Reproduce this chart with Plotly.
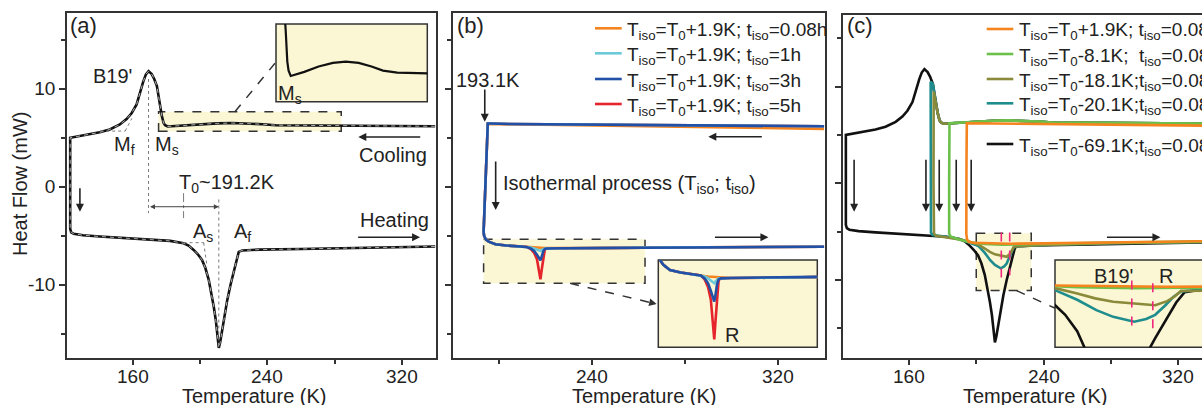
import plotly.graph_objects as go

W, H = 1202, 405
def px(x): return x / W
def py(y): return 1 - y / H

FONT = "Liberation Sans, Arial, sans-serif"
INK = "#222222"
AX = "#333333"
YEL = "#FBF6D3"
PINK = "#F0287C"

# ---------------- axis ticks ----------------
x_tick_vals = [160, 240, 320]
x_tick_text = ["160", "240", "320"]
x_minor_vals = [120, 200, 280]
y_tick_vals = [-10, 0, 10]
y_tick_text = ["-10", "0", "10"]
y_minor_vals = [-15, -5, 5, 15]

# ---------------- data: panel (a) and black curve of (c) ----------------
a_cool_T = [340, 320, 300, 280, 265, 255, 245, 237, 228, 219, 210, 200, 190, 183, 180.5, 179, 178.1, 177,
            176.1, 175, 174.1, 172.5, 171, 169.1, 167.5, 166, 164, 162, 159, 156, 152, 146, 140, 134, 128, 124, 122.4]
a_cool_HF = [6.17, 6.18, 6.19, 6.2, 6.21, 6.23, 6.28, 6.38, 6.47, 6.5, 6.47, 6.38, 6.25, 6.17, 6.15, 6.28, 6.5, 7.25,
             8.2, 9.3, 10.27, 11.0, 11.5, 11.8, 11.45, 10.75, 9.5, 8.4, 7.5, 6.9, 6.35, 5.85, 5.55, 5.35, 5.2, 5.08, 5.0]
a_heat_T = [122.4, 123, 124.5, 130, 140, 150, 160, 170, 182, 190, 193, 196, 198.5, 201, 203, 205, 206.5, 208, 209.2,
            210.2, 211, 211.8, 213, 214.5, 216, 218, 220, 221.5, 222.9, 225, 235, 260, 300, 340]
a_heat_HF = [-4.3, -4.65, -4.8, -4.95, -5.08, -5.17, -5.27, -5.42, -5.53, -5.77, -6.0, -6.45, -6.9, -7.47, -8.3, -9.5,
             -10.8, -12.25, -13.6, -15.0, -16.45, -15.9, -14.6, -13.1, -11.6, -10.0, -8.5, -7.4, -6.65, -6.5, -6.42,
             -6.35, -6.22, -6.1]

# ---------------- data: panel (b) ----------------
b_labels = ["T<sub>iso</sub>=T<sub>0</sub>+1.9K; t<sub>iso</sub>=0.08h",
            "T<sub>iso</sub>=T<sub>0</sub>+1.9K; t<sub>iso</sub>=1h",
            "T<sub>iso</sub>=T<sub>0</sub>+1.9K; t<sub>iso</sub>=3h",
            "T<sub>iso</sub>=T<sub>0</sub>+1.9K; t<sub>iso</sub>=5h"]
b_colors = ["#F5841F", "#6CCAD8", "#2150A6", "#E5242B"]
b_cool_T = [340, 300, 260, 230, 205, 196, 195.0]
b_cool_HF_orange = [5.9, 6.05, 6.2, 6.3, 6.38, 6.4, 6.4]
b_cool_HF = [6.17, 6.22, 6.3, 6.35, 6.4, 6.45, 6.45]
b_drop_T = [194.6, 193.8, 193.3, 193.2, 193.4, 194.2, 195.4]
b_drop_HF = [4.0, 0.0, -3.0, -4.6, -5.0, -5.4, -5.6]
b_heat_T = [198.3, 203, 208, 211.8, 213.5, 215, 216.2, 217, 217.7, 218.3, 218.9, 219.6, 220.5, 225, 240, 262, 300, 340]
b_heat_HF_orange = [-5.87, -6.0, -6.1, -6.16, -6.18, -6.2, -6.21, -6.22, -6.22, -6.23, -6.25, -6.26, -6.27, -6.28,
                    -6.27, -6.22, -6.17, -6.12]
b_heat_HF_cyan = [-5.87, -6.0, -6.1, -6.15, -6.2, -6.3, -6.4, -6.5, -6.55, -6.45, -6.35, -6.3, -6.3, -6.28, -6.27,
                  -6.22, -6.17, -6.12]
b_heat_HF_blue = [-5.87, -6.0, -6.1, -6.15, -6.3, -6.55, -6.95, -7.3, -7.5, -7.1, -6.6, -6.35, -6.3, -6.28, -6.27,
                  -6.22, -6.17, -6.12]
b_heat_HF_red = [-5.87, -6.0, -6.1, -6.15, -6.35, -6.75, -7.4, -8.3, -9.45, -8.4, -7.2, -6.4, -6.3, -6.28, -6.27,
                 -6.22, -6.17, -6.12]

# ---------------- data: panel (c) ----------------
c_labels = ["T<sub>iso</sub>=T<sub>0</sub>+1.9K; t<sub>iso</sub>=0.08h",
            "T<sub>iso</sub>=T<sub>0</sub>-8.1K;  t<sub>iso</sub>=0.08h",
            "T<sub>iso</sub>=T<sub>0</sub>-18.1K;t<sub>iso</sub>=0.08h",
            "T<sub>iso</sub>=T<sub>0</sub>-20.1K;t<sub>iso</sub>=0.08h",
            "T<sub>iso</sub>=T<sub>0</sub>-69.1K;t<sub>iso</sub>=0.08h"]
c_colors = ["#F5841F", "#6CC04A", "#8A8A3A", "#1F8C8E", "#111111"]
c_orange_T = [340, 300, 260, 230, 205, 196, 194.3, 194.1, 194.0, 194.0, 194.4, 195.5, 198, 210, 220, 240, 280, 340]
c_orange_HF = [5.95, 6.02, 6.1, 6.15, 6.2, 6.2, 6.2, 2.0, -2.0, -5.2, -5.8, -6.05, -6.15, -6.2, -6.25, -6.22,
               -6.1, -5.98]
c_green_cut = 184.0
c_green_drop_T = [184.0, 183.8, 183.7, 183.8, 184.6, 186.5, 190, 196, 205, 215, 222, 240, 280, 340]
c_green_drop_HF = [6.2, 0.0, -4.0, -5.2, -5.5, -5.65, -5.85, -6.1, -6.28, -6.36, -6.33, -6.26, -6.14, -6.02]
c_olive_cut = 175.0
c_olive_drop_T = [174.6, 174.5, 174.5, 174.8, 176, 182, 190, 196, 201.3, 205, 208, 211, 214.5, 218, 220, 221.3,
                  222.3, 225, 240, 280, 340]
c_olive_drop_HF = [9.5, 0.0, -4.5, -5.2, -5.42, -5.55, -5.8, -6.05, -6.35, -6.75, -7.1, -7.35, -7.5, -7.6, -7.3,
                   -6.95, -6.55, -6.5, -6.38, -6.2, -6.05]
c_teal_cut = 173.0
c_teal_drop_T = [172.8, 172.7, 172.7, 173.0, 174, 180, 186, 192, 196, 201.3, 205, 208.2, 211, 214.5, 216.5, 218,
                 219.7, 221, 222.3, 225, 240, 280, 340]
c_teal_drop_HF = [10.5, 0.0, -4.5, -5.1, -5.35, -5.5, -5.62, -5.9, -6.15, -6.5, -7.2, -7.96, -8.45, -8.8, -8.6,
                  -8.3, -7.6, -7.0, -6.6, -6.5, -6.38, -6.2, -6.05]

fig = go.Figure()

def line(x, y, color, width, xa="x", ya="y", dash="solid"):
    fig.add_trace(go.Scatter(x=x, y=y, mode="lines", xaxis=xa, yaxis=ya, showlegend=False, hoverinfo="skip",
                             line=dict(color=color, width=width, dash=dash)))

# ---- panel a
a_T = a_cool_T + a_heat_T
a_HF = a_cool_HF + a_heat_HF
line(a_T, a_HF, "#111111", 2.6)
line(a_T, a_HF, "#c4c4c4", 0.9, dash="4px,4px")
# inset a
line(a_cool_T, a_cool_HF, "#111111", 2.2, "x4", "y4")

# ---- panel b
b_heat = [b_heat_HF_orange, b_heat_HF_cyan, b_heat_HF_blue, b_heat_HF_red]
order = [0, 3, 1, 2]
for i in order:
    ch = b_cool_HF_orange if i == 0 else b_cool_HF
    xs = b_cool_T + b_drop_T + b_heat_T
    ys = ch + b_drop_HF + b_heat[i]
    line(xs, ys, b_colors[i], 2.6, "x2", "y2")
for i in order:
    line(b_drop_T + b_heat_T, b_drop_HF + b_heat[i], b_colors[i], 2.6, "x5", "y5")

# ---- panel c
def cool_until(cut):
    xs = [t for t in a_cool_T if t >= cut]
    ys = [h for t, h in zip(a_cool_T, a_cool_HF) if t >= cut]
    return xs, ys

c_series = []
c_series.append((a_T, a_HF, c_colors[4]))
for cut, dx, dy, col in [(c_teal_cut, c_teal_drop_T, c_teal_drop_HF, c_colors[3]),
                         (c_olive_cut, c_olive_drop_T, c_olive_drop_HF, c_colors[2]),
                         (c_green_cut, c_green_drop_T, c_green_drop_HF, c_colors[1])]:
    cx, cy = cool_until(cut)
    c_series.append((cx + dx, cy + dy, col))
c_series.append((c_orange_T, c_orange_HF, c_colors[0]))
for xs, ys, col in c_series:
    line(xs, ys, col, 2.6, "x3", "y3")
for xs, ys, col in c_series:
    line(xs, ys, col, 2.6, "x6", "y6")

# ---------------- axes ----------------
tickfont = dict(size=19, family=FONT, color=INK)
def xax(domain, rng, anchor):
    return dict(domain=domain, range=rng, anchor=anchor, showline=True, linecolor=AX, linewidth=1.6, mirror=True,
                ticks="outside", ticklen=5, tickwidth=1.5, tickcolor=AX, tickmode="array", tickvals=x_tick_vals,
                showticklabels=False,
                minor=dict(tickmode="array", tickvals=x_minor_vals, ticks="outside", ticklen=4, tickwidth=1.5,
                           tickcolor=AX, showgrid=False),
                showgrid=False, zeroline=False, tickfont=tickfont)
def yax(domain, rng, anchor, labels, mirror=True):
    return dict(domain=domain, range=rng, anchor=anchor, showline=True, linecolor=AX, linewidth=1.6, mirror=mirror,
                ticks="outside", ticklen=6, tickwidth=1.5, tickcolor=AX, tickmode="array",
                tickvals=y_tick_vals, ticktext=y_tick_text, showticklabels=labels,
                minor=dict(tickmode="array", tickvals=y_minor_vals, ticks="outside", ticklen=4, tickwidth=1.5,
                           tickcolor=AX, showgrid=False),
                showgrid=False, zeroline=False, tickfont=tickfont)
def hid(domain, rng, anchor):
    return dict(domain=domain, range=rng, anchor=anchor, visible=False, showgrid=False, zeroline=False)

ydom = [py(358), py(13.3)]
layout = dict(
    width=W, height=H, margin=dict(l=0, r=0, t=0, b=0), paper_bgcolor="white", plot_bgcolor="rgba(0,0,0,0)",
    font=dict(family=FONT, color=INK), showlegend=False,
    xaxis=xax([px(67), px(436)], [120.5, 340.5], "y"),
    yaxis=yax(ydom, [-17.48, 17.7], "x", True),
    xaxis2=xax([px(453), px(825)], [180, 340.4], "y2"),
    yaxis2=yax(ydom, [-17.48, 17.7], "x2", False),
    xaxis3=xax([px(843), 1.0], [120.7, 334.1], "y3"),
    yaxis3=yax([py(358), py(15)], [-18.07, 17.4], "x3", False, mirror=False),
    xaxis4=hid([px(276), px(427.3)], [170.2, 276], "y4"),
    yaxis4=hid([py(101.7), py(24)], [5.52, 7.42], "x4"),
    xaxis5=hid([px(658.3), px(817.3)], [193.2, 262.8], "y5"),
    yaxis5=hid([py(347.3), py(260)], [-9.86, -5.35], "x5"),
    xaxis6=hid([px(1055), 1.0], [201.3, 225.8], "y6"),
    yaxis6=hid([py(347.3), py(260)], [-10.67, -4.3], "x6"),
)
fig.update_layout(**layout)

shapes = []
ann = []

def seg(x0, y0, x1, y1, xr, yr, color=AX, width=1.5, dash="solid"):
    shapes.append(dict(type="line", x0=x0, y0=y0, x1=x1, y1=y1, xref=xr, yref=yr,
                       line=dict(color=color, width=width, dash=dash)))

def arrow(x0, y0, x1, y1, xr, yr, color=INK, width=1.6, size=1.0, side="end"):
    ann.append(dict(x=x1, y=y1, ax=x0, ay=y0, xref=xr, yref=yr, axref=xr, ayref=yr, text="", showarrow=True,
                    arrowhead=2, arrowsize=size, arrowwidth=width, arrowcolor=color, arrowside=side, standoff=0,
                    startstandoff=0))

def dashed_arrow(x0, y0, x1, y1, xr, yr, color=AX, width=1.5):
    seg(x0, y0, x1, y1, xr, yr, color, width, "dash")
    f = 0.06
    arrow(x1 - f * (x1 - x0), y1 - f * (y1 - y0), x1, y1, xr, yr, color, width)

def text(x, y, s, xr, yr, size=20, xanchor="center", yanchor="middle", **kw):
    ann.append(dict(x=x, y=y, xref=xr, yref=yr, text=s, showarrow=False, xanchor=xanchor, yanchor=yanchor,
                    font=dict(size=size, family=FONT, color=INK), **kw))

def box(x0, y0, x1, y1, xr, yr, dash="solid"):
    shapes.append(dict(type="rect", x0=x0, y0=y0, x1=x1, y1=y1, xref=xr, yref=yr, fillcolor=YEL,
                       line=dict(color=AX, width=1.5, dash=dash), layer="below"))

# ---- x tick labels (placed on each x axis scale)
for xr in ["x", "x2", "x3"]:
    for v, t in zip(x_tick_vals, x_tick_text):
        if xr == "x2" and v < 180:
            continue
        text(v, py(376.5), t, xr, "paper", 19)

# ---- panel a decorations
box(175.1, 5.66, 284.0, 7.65, "x", "y", "dash")
box(0, 0, 1, 1, "x4 domain", "y4 domain")
dashed_arrow(220.6, 7.65, 244.5, 12.6, "x", "y")
DOT = "#7a7a7a"
seg(169.1, 11.0, 169.1, -2.7, "x", "y", DOT, 1, "dot")
seg(211.0, -1.3, 211.0, -16.2, "x", "y", DOT, 1, "dot")
seg(190.0, -0.65, 190.0, -3.2, "x", "y", DOT, 1, "dashdot")
seg(140.3, 5.68, 155.2, 5.68, "x", "y", DOT, 1, "dot")
seg(155.2, 5.68, 159.2, 6.98, "x", "y", DOT, 1, "dot")
seg(190.0, -5.71, 202.0, -5.71, "x", "y", DOT, 1, "dot")
seg(202.0, -5.71, 204.0, -8.16, "x", "y", DOT, 1, "dot")
arrow(169.1, -2.04, 211.0, -2.04, "x", "y", "#444", 1, 1.0, "end+start")
arrow(332.0, 5.07, 294.2, 5.07, "x", "y")
arrow(293.2, -5.16, 331.0, -5.16, "x", "y")
arrow(128.2, 0.0, 128.2, -2.55, "x", "y")
text(px(68), py(25), "(a)", "paper", "paper", 22, "left")
text(147.5, 11.3, "B19'", "x", "y")
text(154.6, 4.25, "M<sub>f</sub>", "x", "y")
text(180.3, 4.25, "M<sub>s</sub>", "x", "y")
text(315.0, 3.23, "Cooling", "x", "y")
text(315.5, -3.4, "Heating", "x", "y")
text(201.8, -4.65, "A<sub>s</sub>", "x", "y")
text(225.0, -4.65, "A<sub>f</sub>", "x", "y")
text(216.1, 0.3, "T<sub>0</sub>~191.2K", "x", "y")
text(179.8, 5.7, "M<sub>s</sub>", "x4", "y4")

# ---- panel b decorations
box(193.2, -5.35, 262.8, -9.86, "x2", "y2", "dash")
box(0, 0, 1, 1, "x5 domain", "y5 domain")
dashed_arrow(230.5, -9.86, 267.8, -11.97, "x2", "y2")
arrow(193.7, 10.07, 193.7, 6.63, "x2", "y2")
arrow(198.4, 2.72, 198.4, -2.38, "x2", "y2")
arrow(313.8, 5.1, 290.1, 5.1, "x2", "y2")
arrow(292.3, -5.16, 316.0, -5.16, "x2", "y2")
text(px(455), py(25), "(b)", "paper", "paper", 22, "left")
text(195.0, 10.9, "193.1K", "x2", "y2")
text(200.5, 0.2, "Isothermal process (T<sub>iso</sub>; t<sub>iso</sub>)", "x2", "y2", 20, "left")
text(225.3, -9.22, "R", "x5", "y5")
for k, ry in enumerate([28.3, 53.3, 79, 104]):
    seg(px(595), py(ry), px(621.7), py(ry), "paper", "paper", b_colors[k], 2.6)
    text(px(625), py(ry + 2.5), b_labels[k], "paper", "paper", 19, "left")

# ---- panel c decorations
box(199.9, -5.17, 232.6, -11.1, "x3", "y3", "dash")
shapes.append(dict(type="rect", x0=0, y0=0, x1=1.05, y1=1, xref="x6 domain", yref="y6 domain", fillcolor=YEL,
                   line=dict(color=AX, width=1.5), layer="below"))
dashed_arrow(223.9, -11.1, 246.9, -12.93, "x3", "y3")
for xa in [127.3, 170.0, 177.9, 188.0, 196.9]:
    arrow(xa, 2.59, xa, -2.94, "x3", "y3")
arrow(276.7, -5.58, 309.4, -5.58, "x3", "y3")
for xa, y1 in [(214.8, -10.3), (219.8, -9.5)]:
    dashed_arrow(xa, -5.1, xa, y1, "x3", "y3", PINK, 1.6)
for xa, y0, y1 in [(214.1, -5.8, -9.7), (217.6, -6.0, -9.3)]:
    dashed_arrow(xa, y0, xa, y1, "x6", "y6", PINK, 1.6)
text(211.0, -5.5, "B19'", "x6", "y6")
text(219.8, -5.5, "R", "x6", "y6")
text(px(845), py(25), "(c)", "paper", "paper", 22, "left")
for k, ry in enumerate([29, 54, 79, 103.3, 144]):
    seg(px(986.7), py(ry), px(1013.3), py(ry), "paper", "paper", c_colors[k], 2.6)
    text(px(1016.7), py(ry + 2.5), c_labels[k], "paper", "paper", 19, "left")

# ---- axis titles
text(px(20), py(184), "Heat Flow (mW)", "paper", "paper", 20, textangle=-90)
for cx in [254, 644, 1035]:
    text(px(cx), py(383), "Temperature (K)", "paper", "paper", 20, "center", "top")

fig.update_layout(shapes=shapes, annotations=ann)
fig.write_html("out.html")
